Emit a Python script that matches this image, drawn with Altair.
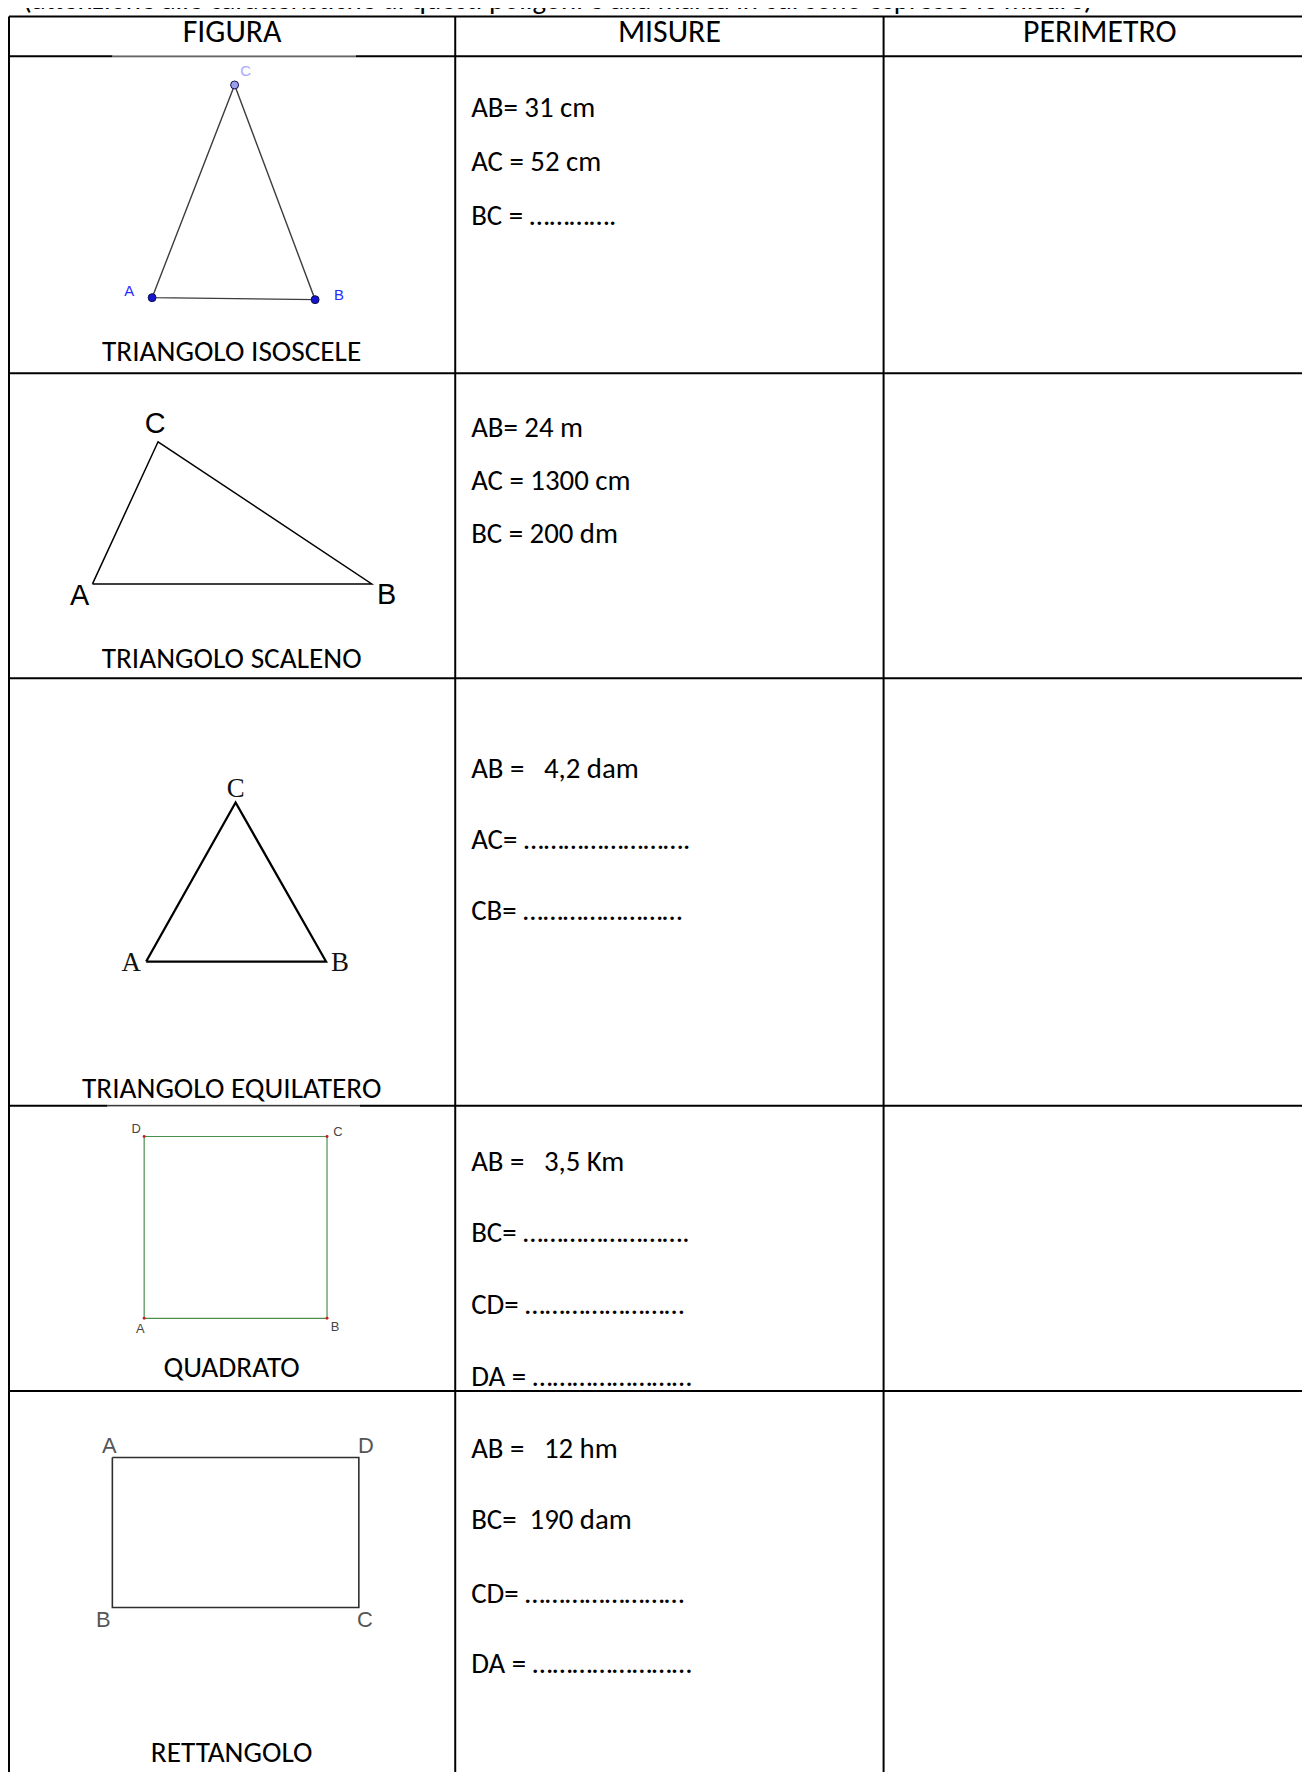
import altair as alt
import pandas as pd

# ---------------- data (page pixel coordinates of the worksheet) ----------------
PAGE_W = 1310
PAGE_H = 1772
MARGIN = 8

title_text = "(attenzione alle caratteristiche di questi poligoni e alla marca in cui sono espresse le misure)"
title_x = 23
title_y = 4

col_edges = [9, 458, 889, 1324]
row_edges = [11, 51, 370, 677, 1107, 1394, 1800]
thin_x1 = [113, 108]
thin_x2 = [358, 362]
thin_y = [51, 1107]

headers = ["FIGURA", "MISURE", "PERIMETRO"]
header_baseline = 37

figure_names = ["TRIANGOLO ISOSCELE", "TRIANGOLO SCALENO", "TRIANGOLO EQUILATERO", "QUADRATO", "RETTANGOLO"]
figure_name_x = 233
figure_name_baselines = [358, 667, 1099, 1380, 1767]

measure_x = 474
measure_lines = [
    ["AB= 31 cm", "AC = 52 cm", "BC = …………."],
    ["AB= 24 m", "AC = 1300 cm", "BC = 200 dm"],
    ["AB =\u00a0\u00a0 4,2 dam", "AC= …………………….", "CB= ……………………"],
    ["AB =\u00a0\u00a0 3,5 Km", "BC= …………………….", "CD= ……………………", "DA = ……………………"],
    ["AB =\u00a0\u00a0 12 hm", "BC=\u00a0 190 dam", "CD= ……………………", "DA = ……………………"],
]
measure_baselines = [
    [112, 167, 221],
    [434, 488, 541],
    [777, 849, 920],
    [1173, 1244, 1317, 1389],
    [1462, 1533, 1607, 1678],
]

# isosceles triangle
iso_names = ["A", "B", "C"]
iso_x = [153, 317, 236]
iso_y = [294, 296, 80]
iso_label_x = [130, 341, 247]
iso_label_y = [287, 291, 66]
iso_label_color = ["#2a2aff", "#2a2aff", "#a8a8ff"]
iso_point_fill = ["#1414d2", "#1414d2", "#9d9df0"]

# scalene triangle
sca_names = ["A", "B", "C"]
sca_x = [93, 374, 159]
sca_y = [582, 582, 439]
sca_label_x = [80, 389, 156]
sca_label_y = [594, 593, 421]

# equilateral triangle
equ_names = ["A", "B", "C"]
equ_x = [147, 328, 237]
equ_y = [962, 962, 802]
equ_label_x = [132, 342, 237]
equ_label_y = [964, 964, 788]

# square
sq_names = ["A", "B", "C", "D"]
sq_x = [145, 329, 329, 145]
sq_y = [1321, 1321, 1138, 1138]
sq_label_x = [141, 337, 340, 137]
sq_label_y = [1332, 1330, 1134, 1130]

# rectangle
rect_names = ["A", "B", "C", "D"]
rect_x = [113, 113, 361, 361]
rect_y = [1461, 1612, 1612, 1461]
rect_label_x = [110, 104, 367, 368]
rect_label_y = [1449, 1625, 1625, 1449]

# ---------------- chart ----------------
SX = alt.Scale(domain=[MARGIN, PAGE_W], nice=False, zero=False)
SY = alt.Scale(domain=[MARGIN, PAGE_H], nice=False, zero=False, reverse=True)
TEXT_FONT = "Carlito, Lato, sans-serif"
HEADER_SIZE = 32
NAME_SIZE = 29.5
MEASURE_SIZE = 29


def X(f):
    return alt.X(f, type="quantitative", scale=SX, axis=None)


def Y(f):
    return alt.Y(f, type="quantitative", scale=SY, axis=None)


layers = []

# grid
h_df = pd.DataFrame({"y": row_edges, "x1": [col_edges[0]] * len(row_edges), "x2": [col_edges[-1]] * len(row_edges)})
v_df = pd.DataFrame({"x": col_edges, "y1": [row_edges[0]] * len(col_edges), "y2": [row_edges[-1]] * len(col_edges)})
layers.append(alt.Chart(h_df).mark_rule(color="black", strokeWidth=2).encode(
    x=X("x1"), x2=alt.X2("x2"), y=Y("y")))
layers.append(alt.Chart(v_df).mark_rule(color="black", strokeWidth=2).encode(
    x=X("x"), y=Y("y1"), y2=alt.Y2("y2")))
thin_df = pd.DataFrame({"x1": thin_x1, "x2": thin_x2, "y": thin_y})
layers.append(alt.Chart(thin_df).mark_rule(color="white", strokeWidth=2.2).encode(
    x=X("x1"), x2=alt.X2("x2"), y=Y("y")))
layers.append(alt.Chart(thin_df).mark_rule(color="#111111", strokeWidth=1).encode(
    x=X("x1"), x2=alt.X2("x2"), y=Y("y")))

# title (cut at top like the scan)
layers.append(alt.Chart(pd.DataFrame({"t": [title_text], "x": [title_x], "y": [title_y]})).mark_text(
    align="left", baseline="alphabetic", font=TEXT_FONT, fontSize=MEASURE_SIZE, color="black").encode(
    x=X("x"), y=Y("y"), text="t:N"))

# headers
hx = [(col_edges[i] + col_edges[i + 1]) / 2 for i in range(3)]
layers.append(alt.Chart(pd.DataFrame({"t": headers, "x": hx, "y": [header_baseline] * 3})).mark_text(
    align="center", baseline="alphabetic", font=TEXT_FONT, fontSize=HEADER_SIZE, color="black").encode(
    x=X("x"), y=Y("y"), text="t:N"))

# figure names
layers.append(alt.Chart(pd.DataFrame({"t": figure_names, "x": [figure_name_x] * 5, "y": figure_name_baselines})).mark_text(
    align="center", baseline="alphabetic", font=TEXT_FONT, fontSize=NAME_SIZE, color="black").encode(
    x=X("x"), y=Y("y"), text="t:N"))

# measures
mt, my = [], []
for lines, ys in zip(measure_lines, measure_baselines):
    mt += lines
    my += ys
layers.append(alt.Chart(pd.DataFrame({"t": mt, "x": [measure_x] * len(mt), "y": my})).mark_text(
    align="left", baseline="alphabetic", font=TEXT_FONT, fontSize=MEASURE_SIZE, color="black").encode(
    x=X("x"), y=Y("y"), text="t:N"))


def polygon(xs, ys, color, width):
    df = pd.DataFrame({"i": list(range(len(xs) + 1)), "x": xs + xs[:1], "y": ys + ys[:1]})
    return alt.Chart(df).mark_line(color=color, strokeWidth=width, strokeJoin="miter").encode(
        x=X("x"), y=Y("y"), order="i:Q")


def labels(names, xs, ys, font, size, color=None, colors=None, weight="normal"):
    df = pd.DataFrame({"t": names, "x": xs, "y": ys})
    kw = dict(align="center", baseline="middle", font=font, fontSize=size, fontWeight=weight)
    enc = dict(x=X("x"), y=Y("y"), text="t:N")
    if colors is not None:
        df["c"] = colors
        enc["color"] = alt.Color("c:N", scale=None)
    else:
        kw["color"] = color
    return alt.Chart(df).mark_text(**kw).encode(**enc)


# isosceles
layers.append(polygon(iso_x, iso_y, "#3c3c3c", 1.4))
layers.append(alt.Chart(pd.DataFrame({"x": iso_x, "y": iso_y, "f": iso_point_fill})).mark_point(
    filled=True, shape="circle", size=64, stroke="#10104a", strokeWidth=1, opacity=1).encode(
    x=X("x"), y=Y("y"), fill=alt.Fill("f:N", scale=None)))
layers.append(labels(iso_names, iso_label_x, iso_label_y, "Liberation Sans", 15, colors=iso_label_color))

# scalene
layers.append(polygon(sca_x, sca_y, "black", 1.5))
layers.append(labels(sca_names, sca_label_x, sca_label_y, "Liberation Sans", 29, color="black"))

# equilateral
layers.append(polygon(equ_x, equ_y, "black", 2.3))
layers.append(labels(equ_names, equ_label_x, equ_label_y, "Liberation Serif", 27, color="#111111"))

# square
layers.append(polygon(sq_x, sq_y, "#4c8f4c", 1.2))
layers.append(alt.Chart(pd.DataFrame({"x": sq_x, "y": sq_y})).mark_point(
    filled=True, shape="circle", size=9, color="#c81e1e", opacity=1).encode(x=X("x"), y=Y("y")))
layers.append(labels(sq_names, sq_label_x, sq_label_y, "Liberation Sans", 13, color="#444444"))

# rectangle
layers.append(polygon(rect_x, rect_y, "#2e2e2e", 1.6))
layers.append(labels(rect_names, rect_label_x, rect_label_y, "Liberation Sans", 22, color="#555555"))

chart = alt.layer(*layers).properties(
    width=PAGE_W - MARGIN,
    height=PAGE_H - MARGIN,
    padding=0,
    autosize=alt.AutoSizeParams(type="none"),
    background="white",
).configure_view(stroke=None)

chart.save("out.html", embed_options={"renderer": "svg", "actions": False})
